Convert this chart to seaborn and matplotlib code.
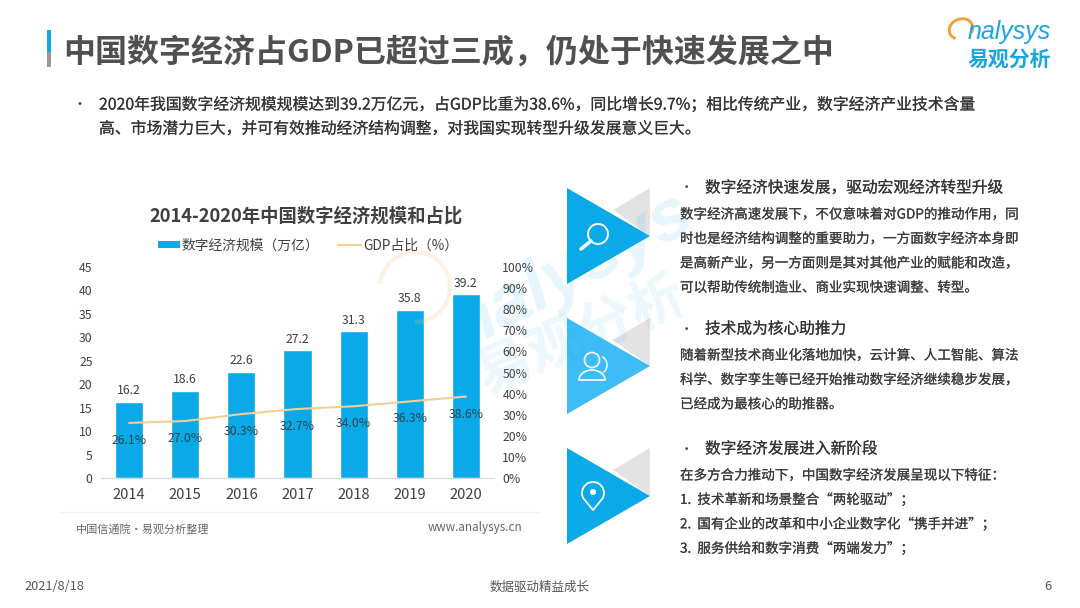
import seaborn as sns
import pandas as pd
import matplotlib.pyplot as plt
import matplotlib.patheffects as pe
from matplotlib.patches import Polygon, Rectangle, Circle, Arc

years = ["2014", "2015", "2016", "2017", "2018", "2019", "2020"]
scale = [16.2, 18.6, 22.6, 27.2, 31.3, 35.8, 39.2]
share = [26.1, 27.0, 30.3, 32.7, 34.0, 36.3, 38.6]
left_ticks = [0, 5, 10, 15, 20, 25, 30, 35, 40, 45]
right_ticks = [0, 10, 20, 30, 40, 50, 60, 70, 80, 90, 100]

title = "中国数字经济占GDP已超过三成，仍处于快速发展之中"
intro = ["2020年我国数字经济规模规模达到39.2万亿元，占GDP比重为38.6%，同比增长9.7%；相比传统产业，数字经济产业技术含量",
         "高、市场潜力巨大，并可有效推动经济结构调整，对我国实现转型升级发展意义巨大。"]
sections = [
    (188, "数字经济快速发展，驱动宏观经济转型升级",
     ["数字经济高速发展下，不仅意味着对GDP的推动作用，同",
      "时也是经济结构调整的重要助力，一方面数字经济本身即",
      "是高新产业，另一方面则是其对其他产业的赋能和改造，",
      "可以帮助传统制造业、商业实现快速调整、转型。"]),
    (329, "技术成为核心助推力",
     ["随着新型技术商业化落地加快，云计算、人工智能、算法",
      "科学、数字孪生等已经开始推动数字经济继续稳步发展，",
      "已经成为最核心的助推器。"]),
    (449, "数字经济发展进入新阶段",
     ["在多方合力推动下，中国数字经济发展呈现以下特征：",
      "1.  技术革新和场景整合“两轮驱动”；",
      "2.  国有企业的改革和中小企业数字化“携手并进”；",
      "3.  服务供给和数字消费“两端发力”；"]),
]

sns.set_theme(style="white")
plt.rcParams['font.family'] = ['Noto Sans CJK SC', 'DejaVu Sans']

BLUE = "#0aa9e8"
DARK = "#404040"
# thickens the regular weight a touch, the slide text is heavier than Noto regular
heavy = [pe.withStroke(linewidth=0.12, foreground="#555555")]
df = pd.DataFrame({"year": years, "scale": scale, "share": share})

fig = plt.figure(figsize=(10.8, 6.08), dpi=100, facecolor="white")

# chart, axes box taken from the pixel positions of the reference
ax = fig.add_axes([101 / 1080, 1 - 478 / 608, 393 / 1080, 211 / 608])
ax.patch.set_alpha(0)
sns.barplot(data=df, x="year", y="scale", color=BLUE, saturation=1, width=0.5, ax=ax)
ax.set_ylim(0, 45)
ax.set_xlim(-0.5, 6.5)
ax.set_yticks(left_ticks)
ax.set_xlabel("")
ax.set_ylabel("")
ax.tick_params(axis="x", length=0, labelsize=10.6, labelcolor=DARK, pad=7)
ax.tick_params(axis="y", length=0, labelsize=8.8, labelcolor=DARK, pad=6)
sns.despine(ax=ax, left=True, right=True, top=True)
ax.spines["bottom"].set_color("#d9d9d9")
ax.spines["bottom"].set_linewidth(0.8)
for i, v in enumerate(scale):
    ax.text(i, v + 1.0, f"{v}", ha="center", va="bottom", fontsize=8.8, color=DARK)

ax2 = ax.twinx()
ax2.patch.set_alpha(0)
sns.lineplot(x=list(range(len(years))), y=share, color="#f2cf9a", linewidth=1.5, ax=ax2)
ax2.set_ylim(0, 100)
ax2.set_yticks(right_ticks)
ax2.set_yticklabels([f"{t}%" for t in right_ticks])
ax2.tick_params(axis="y", length=0, labelsize=8.8, labelcolor=DARK, pad=6)
ax2.grid(False)
sns.despine(ax=ax2, left=True, right=True, top=True, bottom=True)
for i, v in enumerate(share):
    ax2.text(i, v - 5.2, f"{v:.1f}%", ha="center", va="top", fontsize=8.8, color="#2a4454")

# top layer in pixel coordinates: text, legend, watermark
fg = fig.add_axes([0, 0, 1, 1])
fg.set_xlim(0, 1080)
fg.set_ylim(608, 0)
fg.axis("off")
fg.patch.set_alpha(0)

fg.add_patch(Rectangle((47, 30), 4, 37, color=BLUE, lw=0))
fg.add_patch(Rectangle((47, 52), 4, 15, color="#9a9a9a", lw=0))
fg.text(63, 54, title, fontsize=23, fontweight="bold", color="#505050", va="center")

# logo
fg.add_patch(Arc((961, 29), 24, 20, angle=-20, theta1=140, theta2=400, color="#f0a030", lw=2))
fg.text(968, 32, "nalysys", fontsize=18, style="italic", color="#1aa5e0", va="center", family=["Liberation Sans"])
fg.text(968, 59, "易观分析", fontsize=15, fontweight="bold", color="#1aa5e0", va="center")

fg.text(73, 105, "•", fontsize=10, color=DARK, va="center")
fg.text(99, 105, intro[0], fontsize=11.4, color="#333333", va="center", path_effects=heavy)
fg.text(99, 129, intro[1], fontsize=11.4, color="#333333", va="center", path_effects=heavy)

# chart heading and legend
fg.text(306, 216, "2014-2020年中国数字经济规模和占比", fontsize=13.2, fontweight="bold",
        color=DARK, ha="center", va="center")
fg.add_patch(Rectangle((158, 241), 22, 7, color=BLUE, lw=0))
fg.text(182, 246, "数字经济规模（万亿）", fontsize=9.9, color=DARK, va="center")
fg.plot([338, 361], [245, 245], color="#f2cf9a", lw=1.5)
fg.text(363, 246, "GDP占比（%）", fontsize=9.9, color=DARK, va="center")

# chart footer
fg.plot([60, 540], [512, 512], color="#f2f2f2", lw=1)
fg.text(76, 529, "中国信通院·易观分析整理", fontsize=8, color="#666666", va="center")
fg.text(428, 528, "www.analysys.cn", fontsize=8.4, color="#666666", va="center")

# triangles and icons
tri_tops = [188, 318, 448]
tri_colors = [BLUE, "#3dbcf5", BLUE]
for top, col in zip(tri_tops, tri_colors):
    fg.add_patch(Polygon([[650, top], [650, top + 48], [613, top + 22]], color="#e3e3e3", lw=0))
    fg.add_patch(Polygon([[567, top], [650, top + 48], [567, top + 96]], color=col, lw=0))
fg.add_patch(Circle((598, 234), 10, fill=False, ec="white", lw=1.4))
fg.plot([591, 581], [241, 249], color="white", lw=2.6, solid_capstyle="round")
fg.add_patch(Circle((592, 360), 7.5, fill=False, ec="white", lw=1.2))
fg.add_patch(Arc((592, 380), 26, 20, theta1=180, theta2=360, color="white", lw=1.2))
fg.plot([579, 605], [380, 380], color="white", lw=1.2)
fg.add_patch(Arc((599, 365), 16, 18, theta1=-70, theta2=60, color="white", lw=1))
fg.add_patch(Arc((593, 493), 22, 22, theta1=150, theta2=390, color="white", lw=1.3))
fg.plot([583.5, 593, 602.5], [498.5, 510, 498.5], color="white", lw=1.3)
fg.add_patch(Circle((593, 492), 3, color="white", lw=0))

# right column
for y, head, lines in sections:
    fg.text(680, y, "•", fontsize=9.5, color=DARK, va="center")
    fg.text(705, y, head, fontsize=11.3, fontweight="medium", color="#333333", va="center", path_effects=heavy)
    for i, line in enumerate(lines):
        fg.text(680, y + 26.5 + i * 24.4, line, fontsize=9.75, color="#3a3a3a", va="center", path_effects=heavy)

# watermark
fg.text(572, 272, "nalysys", fontsize=52, style="italic", fontweight="bold", color="#0aa9e8", alpha=0.1,
        rotation=28, ha="center", va="center", family=["Liberation Sans"])
fg.text(582, 336, "易观分析", fontsize=40, fontweight="bold", color="#0aa9e8", alpha=0.08,
        rotation=23, ha="center", va="center")
fg.add_patch(Arc((415, 287), 70, 70, theta1=185, theta2=450, color="#f2c27a", lw=3, alpha=0.2))

# footer
fg.text(24, 587, "2021/8/18", fontsize=9.2, color="#555555", va="center")
fg.text(540, 587, "数据驱动精益成长", fontsize=9, color="#555555", ha="center", va="center")
fg.text(1048, 587, "6", fontsize=9.2, color="#555555", ha="center", va="center")

fig.savefig("out.png", dpi=100)
